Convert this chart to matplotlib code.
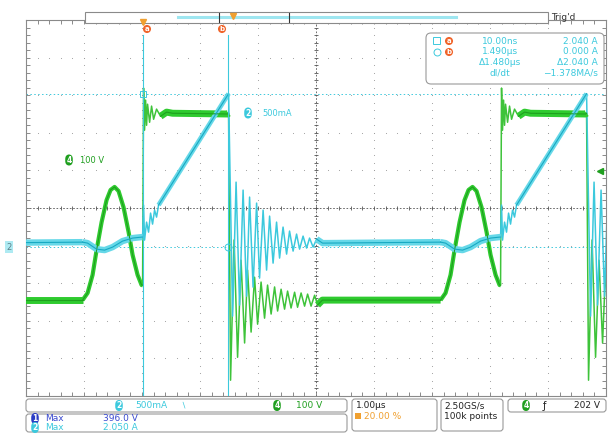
import numpy as np
import matplotlib.pyplot as plt
from matplotlib.patches import FancyBboxPatch, Rectangle

W, H = 611, 436

# timebase: 1 µs/div, trigger at 20 % of the record -> screen spans -2..8 µs
T_LEFT, T_RIGHT = -2.0, 8.0
# vertical: ch2 500 mA/div, ch4 100 V/div, both grounds 1.04 div below centre
CH2_DIV = 0.5
CH4_DIV = 100.0
GND = -1.04
TRIG_LEVEL = 202.0
PERIOD = 6.172       # µs between switching cycles
T_ON = 0.01          # µs, turn-on edge (cursor a)
CURSOR_A = 0.01
CURSOR_B = 1.49
CURSOR_I = [2.040, 0.000]

# ch4 switch-node voltage over one cycle, time relative to turn-on
ch4_t = [-1.034, -0.948, -0.862, -0.793, -0.707, -0.621, -0.552, -0.483, -0.414,
         -0.328, -0.241, -0.172, -0.086, -0.017,
         0.0, 0.017, 0.034, 0.052, 0.069, 0.086, 0.121, 0.155, 0.190, 0.241,
         0.310, 0.414, 0.517, 1.466, 1.483, 1.517,
         1.578, 1.638, 1.698, 1.759, 1.810, 1.871, 1.931, 1.983, 2.043, 2.103,
         2.155, 2.216, 2.276, 2.328, 2.388, 2.448, 2.500, 2.560, 2.621, 2.672,
         2.733, 2.793, 2.845, 2.905, 2.966, 3.017, 3.10, 5.138]
ch4_v = [-141, -122, -74, -8, 66, 125, 152, 160, 149, 106, 40, -21, -74, -101,
         -101, 423, 311, 391, 324, 380, 332, 375, 340, 367, 348, 359, 356, 354, 356, -354,
         19, -293, -35, -255, -61, -226, -80, -205, -93, -189, -101, -178, -106,
         -170, -112, -165, -117, -162, -120, -160, -122, -157, -125, -157, -128,
         -154, -141, -141]

# ch2 inductor current over one cycle
ch2_t = [-1.034, -0.948, -0.793, -0.655, -0.517, -0.345, -0.172, -0.017,
         0.0, 0.017, 0.034, 0.069, 0.103, 0.138, 0.172, 0.207, 0.241, 0.276, 1.483,
         1.552, 1.612, 1.672, 1.733, 1.793, 1.845, 1.905, 1.966, 2.017, 2.078,
         2.138, 2.190, 2.250, 2.310, 2.362, 2.422, 2.483, 2.534, 2.595, 2.655,
         2.707, 2.767, 2.828, 2.879, 2.940, 3.000, 3.103, 5.138]
ch2_i = [0.066, 0.053, -0.027, -0.040, 0.0, 0.080, 0.120, 0.133,
         0.133, 0.559, 0.093, 0.332, 0.199, 0.452, 0.306, 0.492, 0.399, 0.559, 2.040,
         -0.918, 0.864, -0.771, 0.758, -0.652, 0.665, -0.532, 0.585, -0.412, 0.492,
         -0.306, 0.412, -0.213, 0.332, -0.146, 0.266, -0.093, 0.213, -0.053, 0.173,
         -0.027, 0.146, -0.013, 0.120, 0.0, 0.106, 0.053, 0.066]

CYAN = "#3cc9dd"
CYAN_LT = "#66d8e8"
CYAN_DK = "#17a9c2"
GREEN = "#2fcb2f"
GREEN_DK = "#1f9f1f"
GREEN_RING = "#3ec33a"
ORANGE = "#f0642a"
GRID = "#9c9c9c"


def draw_channel(ax, t_rel, vals, scale, bands, band, core, thin):
    """Plot one cycle per period; bands = [(mask_fn, width), ...] for persisted parts."""
    t_rel = np.asarray(t_rel, float)
    y = np.asarray(vals, float) / scale + GND
    for k in (-1, 0, 1):
        t = t_rel + T_ON + k * PERIOD
        ax.plot(t, y, color=thin, lw=1.1, zorder=3)
        for mask_fn, width in bands:
            ys = np.where(mask_fn(t_rel), y, np.nan)
            ax.plot(t, ys, color=band, lw=width, solid_capstyle="butt", zorder=4)
            ax.plot(t, ys, color=core, lw=0.8, zorder=5)


fig = plt.figure(figsize=(W / 100, H / 100), dpi=100)
ax = fig.add_axes([26 / W, 1 - 396 / H, 580 / W, 376 / H])
ax.set_xlim(T_LEFT, T_RIGHT)
ax.set_ylim(-5, 5)

# graticule
fine_x = np.arange(T_LEFT, T_RIGHT + 0.001, 0.2)
fine_y = np.arange(-5, 5.001, 0.2)
for gx in range(-1, 8):
    if gx != 3:
        ax.scatter(np.full_like(fine_y, gx), fine_y, s=0.6, color=GRID, lw=0, zorder=1)
for gy in range(-4, 5):
    if gy != 0:
        ax.scatter(fine_x, np.full_like(fine_x, gy), s=0.6, color=GRID, lw=0, zorder=1)
ax.plot([T_LEFT, T_RIGHT], [0, 0], color="#555555", lw=0.6, ls=(0, (2, 2)), zorder=1)
ax.plot([3, 3], [-5, 5], color="#555555", lw=0.6, ls=(0, (2, 2)), zorder=1)
ax.plot(fine_x, np.zeros_like(fine_x), ls="none", marker="|", ms=3, mew=0.6, color="#555555", zorder=1)
ax.plot(np.full_like(fine_y, 3), fine_y, ls="none", marker="_", ms=3, mew=0.6, color="#555555", zorder=1)
ax.set_xticks(fine_x)
ax.set_yticks(fine_y)
ax.tick_params(direction="in", length=3, width=0.6, color="#777777", top=True, right=True,
               labelbottom=False, labelleft=False)
for s in ax.spines.values():
    s.set_color("#8a8a8a")
    s.set_linewidth(0.8)

# cursors
for tc in (CURSOR_A, CURSOR_B):
    ax.plot([tc, tc], [-5, 4.6], color=CYAN, lw=0.8, zorder=6)
for ic in CURSOR_I:
    ax.axhline(ic / CH2_DIV + GND, color=CYAN, lw=0.7, ls=(0, (1.5, 2.5)), zorder=2)
ax.plot(CURSOR_A, CURSOR_I[0] / CH2_DIV + GND, marker="s", ms=5, mfc="none", mec=CYAN, mew=0.7, zorder=7)
ax.plot(CURSOR_B, CURSOR_I[1] / CH2_DIV + GND, marker="o", ms=5, mfc="none", mec=CYAN, mew=0.7, zorder=7)

# waveforms
draw_channel(ax, ch4_t, ch4_v, CH4_DIV,
             [(lambda t: (t <= -0.95) | ((t >= 0.3) & (t <= 1.483)) | (t >= 3.017), 5.0),
              (lambda t: (t >= -1.034) & (t <= 0.0), 3.0)],
             GREEN, GREEN_DK, GREEN_RING)
draw_channel(ax, ch2_t, ch2_i, CH2_DIV,
             [(lambda t: (t <= 0.0) | (t >= 3.0), 4.6),
              (lambda t: (t >= 0.276) & (t <= 1.483), 3.4)],
             CYAN_LT, CYAN_DK, CYAN)
ax.plot(T_RIGHT - 0.1, TRIG_LEVEL / CH4_DIV + GND, marker="<", ms=4, color=GREEN_DK,
        clip_on=False, zorder=8)

# overlay in pixel coordinates for the scope readouts
ov = fig.add_axes([0, 0, 1, 1], zorder=10)
ov.set_xlim(0, W)
ov.set_ylim(H, 0)
ov.axis("off")


def box(x0, y0, x1, y1, ec="#9a9a9a", fc="white", r=3, lw=0.8):
    ov.add_patch(FancyBboxPatch((x0, y0), x1 - x0, y1 - y0,
                                boxstyle=f"round,pad=0,rounding_size={r}",
                                fc=fc, ec=ec, lw=lw))


def badge(x, y, label, color, shape="round", fs=5.5):
    style = "circle,pad=0.15" if shape == "circle" else "round,pad=0.15,rounding_size=0.6"
    ov.text(x, y, label, color="white", fontsize=fs, ha="center", va="center", fontweight="bold",
            bbox=dict(boxstyle=style, fc=color, ec="none"))


def txt(x, y, s, color, ha="left", fs=6.5, **kw):
    ov.text(x, y, s, color=color, fontsize=fs, ha=ha, va="center", **kw)


# record view bar
ov.add_patch(Rectangle((85, 12), 463, 11, fc="white", ec="#8a8a8a", lw=0.8))
ov.plot([178, 456], [17.5, 17.5], color="#9ee6f0", lw=2.2)
ov.plot([219, 219], [13, 22], color="#333333", lw=0.8)
ov.plot([289, 289], [13, 22], color="#333333", lw=0.8)
ov.plot(233, 16, marker="v", ms=4, color="#f0a030")
txt(551, 17, "Trig'd", "#333333", fs=6.5)

# cursor tags and trigger position marker
ov.plot(143, 22, marker="v", ms=4, color="#f0a030")
badge(147, 29, "a", ORANGE, "circle", 5)
badge(222, 29, "b", ORANGE, "circle", 5)

# cursor readout
box(426, 33, 604, 84, ec="#9a9a9a", r=5)
ov.add_patch(Rectangle((433, 37), 7, 7, fc="none", ec=CYAN, lw=0.7))
ov.plot(437, 52, marker="o", ms=5, mfc="none", mec=CYAN, mew=0.7)
badge(449, 41, "a", ORANGE, "circle", 5)
badge(449, 52, "b", ORANGE, "circle", 5)
rows = [("10.00ns", "2.040 A"), ("1.490µs", "0.000 A"),
        ("Δ1.480µs", "Δ2.040 A"), ("dI/dt", "\u22121.378MA/s")]
for k, (left, right) in enumerate(rows):
    yk = 41 + 10.7 * k
    txt(500, yk, left, CYAN, ha="center")
    txt(598, yk, right, CYAN, ha="right")

# on-screen channel labels
badge(69, 160, "4", GREEN_DK)
txt(80, 160, "100 V", GREEN_DK, fs=6)
badge(248, 113, "2", CYAN)
txt(262, 113, "500mA", CYAN, fs=6)
ov.text(9, 247, "2", color="#5a7f88", fontsize=6, ha="center", va="center",
        bbox=dict(boxstyle="square,pad=0.2", fc="#aeeaf2", ec="none"))

# bottom status boxes
box(26, 399, 347, 412)
badge(119, 405.5, "2", CYAN)
txt(135, 405.5, "500mA", CYAN)
txt(180, 405.5, "\u2216", CYAN, fs=6)
badge(277, 405.5, "4", GREEN_DK)
txt(296, 405.5, "100 V", GREEN_DK)

box(352, 399, 437, 431)
txt(356, 405.5, "1.00µs", "#222222")
ov.add_patch(Rectangle((355, 413), 6, 6, fc="#f0a030", ec="none"))
txt(364, 416, "20.00 %", "#f0a030")

box(441, 399, 503, 431)
txt(444, 405.5, "2.50GS/s", "#222222")
txt(444, 416, "100k points", "#222222")

box(508, 399, 606, 412)
badge(526, 405.5, "4", GREEN_DK)
txt(543, 405.5, "\u0192", "#222222", fs=7)
txt(600, 405.5, "202 V", "#222222", ha="right")

box(26, 414, 347, 432)
badge(35, 418.5, "1", "#2a3cc4")
txt(45, 418.5, "Max", "#3a4ad0")
txt(103, 418.5, "396.0 V", "#3a4ad0")
badge(35, 427.5, "2", CYAN)
txt(45, 427.5, "Max", CYAN)
txt(103, 427.5, "2.050 A", CYAN)

fig.savefig("out.png", dpi=100)
